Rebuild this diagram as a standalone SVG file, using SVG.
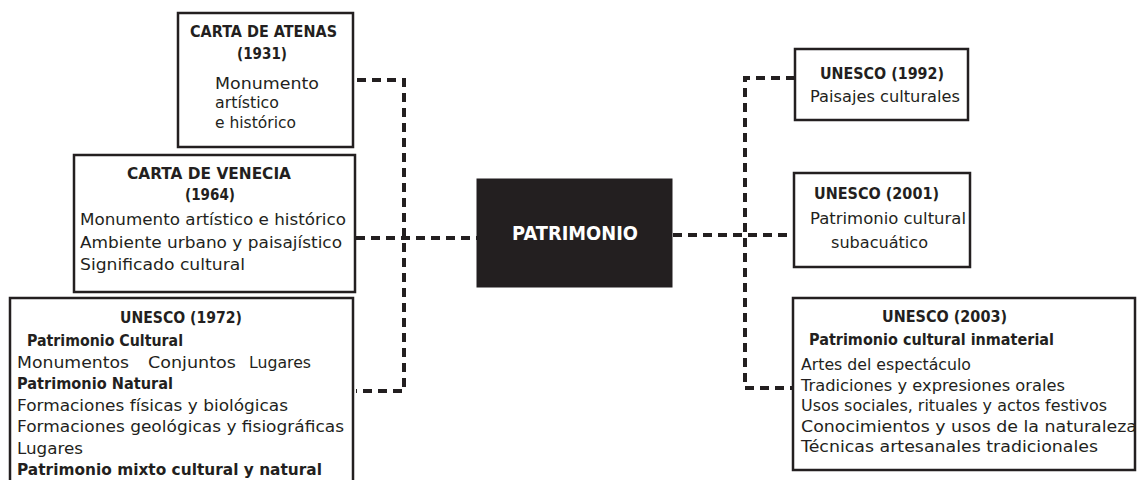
<svg xmlns="http://www.w3.org/2000/svg" width="1139" height="480" viewBox="0 0 1139 480">
  <style>
    .box { fill: #ffffff; stroke: #231f20; stroke-width: 2.5; }
    .core { fill: #231f20; stroke: #231f20; stroke-width: 1; }
    .t { font-family: "DejaVu Sans", "Liberation Sans", sans-serif; font-size: 15px; fill: #231f20; }
    .b { font-family: "DejaVu Sans", "Liberation Sans", sans-serif; font-size: 15px; font-weight: bold; fill: #231f20; }
    .core-t { font-family: "DejaVu Sans", "Liberation Sans", sans-serif; font-size: 20px; font-weight: bold; fill: #ffffff; }
    .link { fill: none; stroke: #231f20; stroke-width: 4; stroke-dasharray: 9 6; }
  </style>
  <rect width="1139" height="480" fill="#ffffff"/>

  <!-- dashed connectors -->
  <g id="connectors">
    <path class="link" d="M357,80 H404 V391 H356"/>
    <path class="link" d="M356,238 H477"/>
    <path class="link" d="M673,235 H793"/>
    <path class="link" d="M795,78 H745 V388 H793"/>
  </g>

  <g id="carta-atenas">
    <rect class="box" x="178" y="13" width="175" height="134"/>
    <text class="b" x="190" y="37" textLength="147" lengthAdjust="spacingAndGlyphs">CARTA DE ATENAS</text>
    <text class="b" x="237" y="59" textLength="50" lengthAdjust="spacingAndGlyphs">(1931)</text>
    <text class="t" x="215" y="89" textLength="104" lengthAdjust="spacingAndGlyphs">Monumento</text>
    <text class="t" x="215" y="108" textLength="64" lengthAdjust="spacingAndGlyphs">artístico</text>
    <text class="t" x="215" y="128" textLength="81" lengthAdjust="spacingAndGlyphs">e histórico</text>
  </g>

  <g id="carta-venecia">
    <rect class="box" x="74" y="155" width="281" height="137"/>
    <text class="b" x="127" y="179" textLength="164" lengthAdjust="spacingAndGlyphs">CARTA DE VENECIA</text>
    <text class="b" x="185" y="200" textLength="50" lengthAdjust="spacingAndGlyphs">(1964)</text>
    <text class="t" x="80" y="225" textLength="266" lengthAdjust="spacingAndGlyphs">Monumento artístico e histórico</text>
    <text class="t" x="80" y="248" textLength="262" lengthAdjust="spacingAndGlyphs">Ambiente urbano y paisajístico</text>
    <text class="t" x="80" y="270" textLength="165" lengthAdjust="spacingAndGlyphs">Significado cultural</text>
  </g>

  <g id="unesco-1972">
    <rect class="box" x="10" y="298" width="343" height="200"/>
    <text class="b" x="120" y="323" textLength="122" lengthAdjust="spacingAndGlyphs">UNESCO (1972)</text>
    <text class="b" x="27" y="346" textLength="156" lengthAdjust="spacingAndGlyphs">Patrimonio Cultural</text>
    <text class="t" y="368">
      <tspan x="17" textLength="112" lengthAdjust="spacingAndGlyphs">Monumentos</tspan>
      <tspan x="148" textLength="88" lengthAdjust="spacingAndGlyphs">Conjuntos</tspan>
      <tspan x="249" textLength="62" lengthAdjust="spacingAndGlyphs">Lugares</tspan>
    </text>
    <text class="b" x="17" y="389" textLength="156" lengthAdjust="spacingAndGlyphs">Patrimonio Natural</text>
    <text class="t" x="17" y="411" textLength="271" lengthAdjust="spacingAndGlyphs">Formaciones físicas y biológicas</text>
    <text class="t" x="17" y="432" textLength="327" lengthAdjust="spacingAndGlyphs">Formaciones geológicas y fisiográficas</text>
    <text class="t" x="17" y="454" textLength="66" lengthAdjust="spacingAndGlyphs">Lugares</text>
    <text class="b" x="17" y="475" textLength="305" lengthAdjust="spacingAndGlyphs">Patrimonio mixto cultural y natural</text>
  </g>

  <g id="patrimonio">
    <rect class="core" x="477" y="179" width="195" height="108"/>
    <text class="core-t" x="512" y="240" textLength="126" lengthAdjust="spacingAndGlyphs">PATRIMONIO</text>
  </g>

  <g id="unesco-1992">
    <rect class="box" x="795" y="49" width="173" height="71"/>
    <text class="b" x="820" y="79" textLength="124" lengthAdjust="spacingAndGlyphs">UNESCO (1992)</text>
    <text class="t" x="810" y="102" textLength="150" lengthAdjust="spacingAndGlyphs">Paisajes culturales</text>
  </g>

  <g id="unesco-2001">
    <rect class="box" x="794" y="173" width="176" height="94"/>
    <text class="b" x="814" y="199" textLength="125" lengthAdjust="spacingAndGlyphs">UNESCO (2001)</text>
    <text class="t" x="810" y="224" textLength="156" lengthAdjust="spacingAndGlyphs">Patrimonio cultural</text>
    <text class="t" x="831" y="248" textLength="97" lengthAdjust="spacingAndGlyphs">subacuático</text>
  </g>

  <g id="unesco-2003">
    <rect class="box" x="793" y="298" width="342" height="172"/>
    <text class="b" x="882" y="322" textLength="125" lengthAdjust="spacingAndGlyphs">UNESCO (2003)</text>
    <text class="b" x="809" y="345" textLength="245" lengthAdjust="spacingAndGlyphs">Patrimonio cultural inmaterial</text>
    <text class="t" x="801" y="370" textLength="170" lengthAdjust="spacingAndGlyphs">Artes del espectáculo</text>
    <text class="t" x="801" y="391" textLength="264" lengthAdjust="spacingAndGlyphs">Tradiciones y expresiones orales</text>
    <text class="t" x="801" y="411" textLength="306" lengthAdjust="spacingAndGlyphs">Usos sociales, rituales y actos festivos</text>
    <text class="t" x="801" y="432" textLength="336" lengthAdjust="spacingAndGlyphs">Conocimientos y usos de la naturaleza</text>
    <text class="t" x="801" y="452" textLength="297" lengthAdjust="spacingAndGlyphs">Técnicas artesanales tradicionales</text>
  </g>
</svg>
